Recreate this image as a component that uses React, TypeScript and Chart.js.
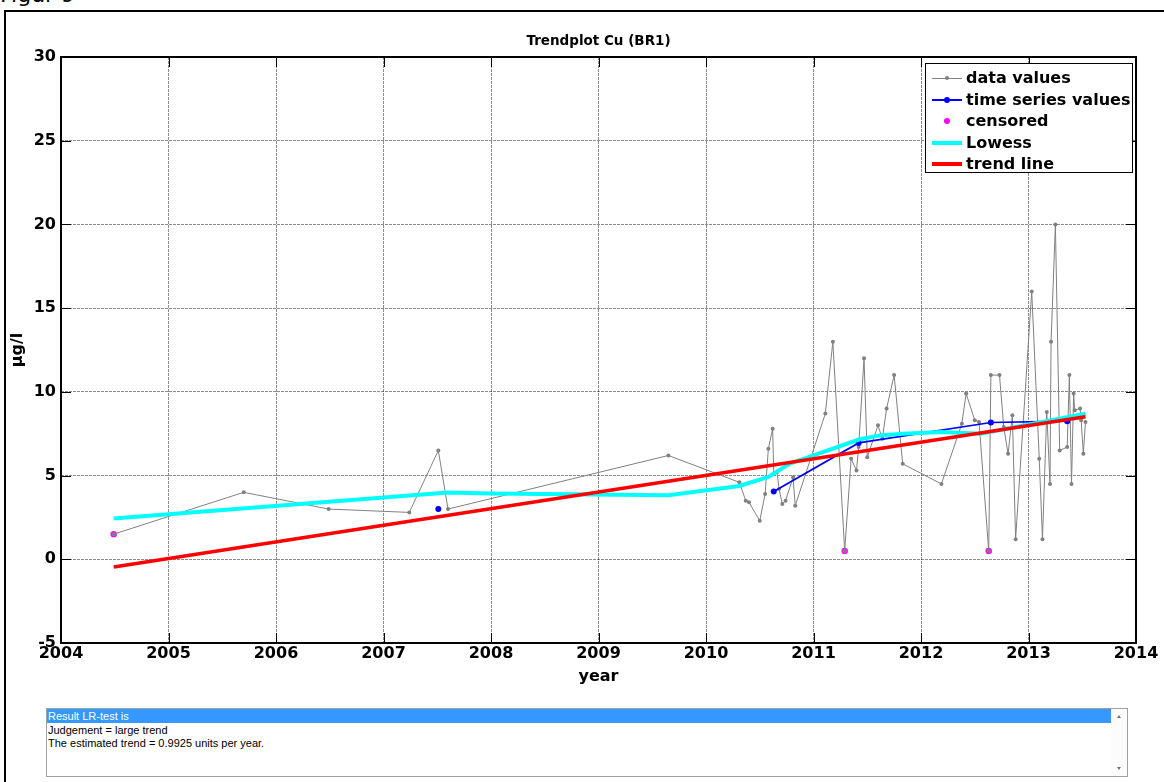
import React, { useEffect, useRef } from "react";
import { Chart, registerables } from "chart.js";

Chart.register(...registerables);

// Measured concentrations (µg/l) in chronological order
const dataYears = [
  2004.49, 2005.7, 2006.49, 2007.24, 2007.51, 2007.6, 2009.65,
  2010.31, 2010.37, 2010.4, 2010.5, 2010.55, 2010.58, 2010.62, 2010.63, 2010.66,
  2010.68, 2010.71, 2010.74, 2010.81, 2010.83,
  2011.11, 2011.18, 2011.29, 2011.35, 2011.4, 2011.42, 2011.47, 2011.5, 2011.6,
  2011.64, 2011.68, 2011.75, 2011.83,
  2012.19, 2012.38, 2012.42, 2012.5, 2012.54, 2012.63, 2012.65, 2012.73, 2012.77,
  2012.81, 2012.85, 2012.88,
  2013.03, 2013.1, 2013.13, 2013.17, 2013.2, 2013.21, 2013.25, 2013.29, 2013.36,
  2013.38, 2013.4, 2013.42, 2013.43, 2013.48, 2013.49, 2013.51, 2013.53,
];
const dataValues = [
  1.5, 4.0, 3.0, 2.8, 6.5, 3.0, 6.2,
  4.6, 3.5, 3.4, 2.3, 3.9, 6.6, 7.8, 5.1, 5.2,
  4.2, 3.3, 3.5, 4.9, 3.2,
  8.7, 13.0, 0.5, 6.0, 5.3, 6.7, 12.0, 6.1, 8.0,
  7.2, 9.0, 11.0, 5.7,
  4.5, 8.1, 9.9, 8.3, 8.2, 0.5, 11.0, 11.0, 7.9,
  6.3, 8.6, 1.2,
  16.0, 6.0, 1.2, 8.8, 4.5, 13.0, 20.0, 6.5, 6.7,
  11.0, 4.5, 9.9, 8.9, 9.0, 8.3, 6.3, 8.2,
];

// Yearly time series values (null = year without a series value)
const seriesYears = [2007.51, 2009.65, 2010.63, 2011.42, 2012.65, 2013.36];
const seriesValues = [3.0, null, 4.05, 6.95, 8.17, 8.25];

// Values below the detection limit
const censoredYears = [2004.49, 2011.29, 2012.63];
const censoredValues = [1.5, 0.5, 0.5];

// Lowess smooth
const lowessYears = [
  2004.49, 2007.6, 2008.0, 2009.65, 2010.31, 2010.58, 2010.78, 2011.0, 2011.43,
  2011.62, 2011.83, 2012.19, 2012.55, 2012.92, 2013.53,
];
const lowessValues = [
  2.43, 3.99, 3.93, 3.83, 4.38, 4.92, 5.72, 6.2, 7.17, 7.4, 7.5, 7.6, 7.5, 7.95, 8.7,
];

// Linear trend: start value and slope in units per year
const trendYears = [2004.49, 2013.53];
const trendStart = -0.46;
const trendSlope = 0.9925;
const trendValues = trendYears.map((y) => trendStart + trendSlope * (y - trendYears[0]));

const xTickLabels = ["2004", "2005", "2006", "2007", "2008", "2009", "2010", "2011", "2012", "2013", "2014"];
const yTickLabels = ["-5", "0", "5", "10", "15", "20", "25", "30"];

const resultLines = [
  "Result LR-test is",
  "Judgement = large trend",
  "The estimated trend = 0.9925 units per year.",
];

const GRAY = "#808080";
const BLUE = "#0000ff";
const MAGENTA = "#ff00ff";
const CYAN = "#00ffff";
const RED = "#ff0000";
const GRID = "rgba(0,0,0,0.45)";
const FONT = "'DejaVu Sans', Verdana, sans-serif";

const pairs = (xs: number[], ys: (number | null)[]) => xs.map((x, i) => ({ x, y: ys[i] }));

// Box around the axes plus inward tick marks on all four sides
const axesFrame = {
  id: "axesFrame",
  afterDatasetsDraw(chart: any) {
    const { ctx, chartArea: a, scales } = chart;
    const len = 10;
    ctx.save();
    ctx.strokeStyle = "#000";
    ctx.lineWidth = 1;
    ctx.beginPath();
    scales.x.ticks.forEach((t: any) => {
      const px = Math.round(scales.x.getPixelForValue(t.value)) + 0.5;
      ctx.moveTo(px, a.bottom);
      ctx.lineTo(px, a.bottom - len);
      ctx.moveTo(px, a.top);
      ctx.lineTo(px, a.top + len);
    });
    scales.y.ticks.forEach((t: any) => {
      const py = Math.round(scales.y.getPixelForValue(t.value)) + 0.5;
      ctx.moveTo(a.left, py);
      ctx.lineTo(a.left + len, py);
      ctx.moveTo(a.right, py);
      ctx.lineTo(a.right - len, py);
    });
    ctx.stroke();
    ctx.lineWidth = 2;
    ctx.strokeRect(a.left, a.top, a.right - a.left, a.bottom - a.top);
    ctx.restore();
  },
};

function TrendChart() {
  const ref = useRef<HTMLCanvasElement | null>(null);

  useEffect(() => {
    if (!ref.current) return;
    const tickFont = { family: FONT, weight: "bold" as const, size: 16 };
    const chart = new Chart(ref.current, {
      type: "scatter",
      data: {
        datasets: [
          {
            label: "trend line",
            data: pairs(trendYears, trendValues),
            showLine: true,
            borderColor: RED,
            borderWidth: 3.5,
            pointRadius: 0,
          },
          {
            label: "Lowess",
            data: pairs(lowessYears, lowessValues),
            showLine: true,
            borderColor: CYAN,
            borderWidth: 4,
            pointRadius: 0,
          },
          {
            label: "time series values",
            data: pairs(seriesYears, seriesValues),
            showLine: true,
            spanGaps: false,
            borderColor: BLUE,
            backgroundColor: BLUE,
            borderWidth: 1.7,
            pointRadius: 3,
            pointBorderWidth: 0,
          },
          {
            label: "data values",
            data: pairs(dataYears, dataValues),
            showLine: true,
            borderColor: GRAY,
            backgroundColor: GRAY,
            borderWidth: 1,
            pointRadius: 2,
            pointBorderWidth: 0,
          },
          {
            label: "censored",
            data: pairs(censoredYears, censoredValues),
            showLine: false,
            backgroundColor: MAGENTA,
            borderColor: MAGENTA,
            pointRadius: 3.2,
            pointBorderWidth: 0,
          },
        ],
      },
      options: {
        responsive: false,
        animation: false,
        layout: { padding: { left: 0, top: 0, right: 28, bottom: 0 } },
        plugins: {
          legend: { display: false },
          tooltip: { enabled: false },
          title: {
            display: true,
            fullSize: false,
            text: "Trendplot Cu (BR1)",
            color: "#000",
            font: { family: FONT, weight: "bold", size: 13.5 },
            padding: { top: 33, bottom: 7.8 },
          },
        },
        scales: {
          x: {
            type: "linear",
            min: 2004,
            max: 2014,
            afterFit: (s: any) => {
              s.height = 57;
            },
            ticks: {
              stepSize: 1,
              color: "#000",
              font: tickFont,
              padding: 1,
              maxRotation: 0,
              callback: (v: any, i: number) => xTickLabels[i] ?? String(v),
            },
            grid: { color: GRID, drawTicks: false, lineWidth: 1 },
            border: { display: false, dash: [3, 1] },
            title: {
              display: true,
              text: "year",
              color: "#000",
              font: { family: FONT, weight: "bold", size: 16 },
              padding: { top: 0, bottom: 14 },
            },
          },
          y: {
            type: "linear",
            min: -5,
            max: 30,
            afterFit: (s: any) => {
              s.width = 61;
            },
            ticks: {
              stepSize: 5,
              color: "#000",
              font: tickFont,
              padding: 5,
              callback: (v: any, i: number) => yTickLabels[i] ?? String(v),
            },
            grid: { color: GRID, drawTicks: false, lineWidth: 1 },
            border: { display: false, dash: [3, 1] },
            title: {
              display: true,
              text: "µg/l",
              color: "#000",
              font: { family: FONT, weight: "bold", size: 16 },
              padding: { top: 8, bottom: 0 },
            },
          },
        },
      },
      plugins: [axesFrame],
    });
    return () => chart.destroy();
  }, []);

  return (
    <canvas
      ref={ref}
      width={1164}
      height={700}
      style={{ position: "absolute", left: 0, top: 0, width: 1164, height: 700 }}
    />
  );
}

type LegendItem = { label: string; color: string; line: number; dot: number };
const legendItems: LegendItem[] = [
  { label: "data values", color: GRAY, line: 1, dot: 4 },
  { label: "time series values", color: BLUE, line: 2, dot: 6 },
  { label: "censored", color: MAGENTA, line: 0, dot: 6 },
  { label: "Lowess", color: CYAN, line: 4, dot: 0 },
  { label: "trend line", color: RED, line: 3.5, dot: 0 },
];

function Legend() {
  return (
    <div
      style={{
        position: "absolute",
        left: 925,
        top: 63,
        width: 206,
        height: 108,
        border: "1px solid #000",
        background: "#fff",
      }}
    >
      {legendItems.map((it, i) => {
        const cy = 14 + i * 21.5;
        return (
          <React.Fragment key={it.label}>
            {it.line > 0 && (
              <div
                style={{
                  position: "absolute",
                  left: 6,
                  width: 30,
                  top: cy - it.line / 2,
                  height: it.line,
                  background: it.color,
                }}
              />
            )}
            {it.dot > 0 && (
              <div
                style={{
                  position: "absolute",
                  left: 21 - it.dot / 2,
                  top: cy - it.dot / 2,
                  width: it.dot,
                  height: it.dot,
                  borderRadius: "50%",
                  background: it.color,
                }}
              />
            )}
            <div
              style={{
                position: "absolute",
                left: 40,
                top: cy - 10,
                height: 20,
                lineHeight: "20px",
                fontFamily: FONT,
                fontWeight: "bold",
                fontSize: 16,
                color: "#000",
                whiteSpace: "nowrap",
              }}
            >
              {it.label}
            </div>
          </React.Fragment>
        );
      })}
    </div>
  );
}

function ResultBox() {
  return (
    <div
      style={{
        position: "absolute",
        left: 46,
        top: 708,
        width: 1080,
        height: 67,
        border: "1px solid #a0a0a0",
        background: "#fff",
        fontFamily: "'Liberation Sans', Arial, sans-serif",
        fontSize: 11,
        color: "#000",
      }}
    >
      {resultLines.map((t, i) => (
        <div
          key={i}
          style={{
            position: "absolute",
            left: 0,
            top: i * 13.5,
            width: 1064,
            height: 14,
            lineHeight: "14px",
            paddingLeft: 1,
            boxSizing: "border-box",
            background: i === 0 ? "#3399ff" : "transparent",
            color: i === 0 ? "#fff" : "#000",
            whiteSpace: "nowrap",
          }}
        >
          {t}
        </div>
      ))}
      <div
        style={{
          position: "absolute",
          right: 0,
          top: 0,
          width: 16,
          height: 67,
          background: "#fcfcfc",
        }}
      >
        <div
          style={{
            position: "absolute",
            left: 6,
            top: 6,
            width: 0,
            height: 0,
            borderLeft: "2.5px solid transparent",
            borderRight: "2.5px solid transparent",
            borderBottom: "3px solid #707070",
          }}
        />
        <div
          style={{
            position: "absolute",
            left: 6,
            bottom: 6,
            width: 0,
            height: 0,
            borderLeft: "2.5px solid transparent",
            borderRight: "2.5px solid transparent",
            borderTop: "3px solid #707070",
          }}
        />
      </div>
    </div>
  );
}

export default function App() {
  return (
    <div
      style={{
        position: "absolute",
        left: 0,
        top: 0,
        width: 1164,
        height: 782,
        overflow: "hidden",
        background: "#fff",
      }}
    >
      <div
        style={{
          position: "absolute",
          left: 0,
          top: -16,
          fontFamily: FONT,
          fontSize: 22,
          lineHeight: "22px",
          color: "#000",
          whiteSpace: "nowrap",
        }}
      >
        Figur 9
      </div>
      <div
        style={{
          position: "absolute",
          left: 4,
          top: 10,
          width: 1200,
          height: 800,
          borderLeft: "2px solid #000",
          borderTop: "2px solid #000",
        }}
      />
      <TrendChart />
      <Legend />
      <ResultBox />
    </div>
  );
}
